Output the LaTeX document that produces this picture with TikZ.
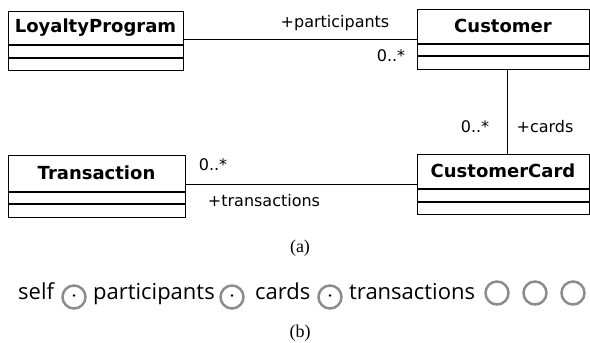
\documentclass[tikz,border=0pt]{standalone}
\usepackage{fontspec}
\usetikzlibrary{
  shapes,
  calc,
  positioning
}
\newfontfamily\umlfont{DejaVu Sans}
\newfontfamily\rowfont{Open Sans}
\newfontfamily\capfont{Liberation Serif}

\tikzset{
  classhead/.style = {draw, line width=1pt, rectangle, inner sep=0pt,
    font=\umlfont\bfseries\fontsize{18}{20}\selectfont},
  classpart/.style = {draw, line width=1pt, rectangle, inner sep=0pt},
  assoc/.style = {draw, line width=1pt},
  role/.style = {font=\umlfont\fontsize{16}{18}\selectfont, inner sep=0pt},
  word/.style = {font=\rowfont\fontsize{22}{24}\selectfont, inner sep=0pt, anchor=base west},
  ring/.style = {circle, draw=black!45, line width=2.5pt, minimum size=23pt, inner sep=0pt},
  capnode/.style = {font=\capfont\fontsize{18}{20}\selectfont, inner sep=0pt}
}

\begin{document}
\begin{tikzpicture}[x=1pt, y=-1pt, node distance = 0pt]
    \useasboundingbox (0,0) rectangle (590,343);

    % (a) class diagram
    \node[classhead, minimum width=175pt, minimum height=33pt] (lp) at (95.5,27.5) {LoyaltyProgram};
    \node[classpart, minimum width=175pt, minimum height=12pt, below = of lp] (lp1) {};
    \node[classpart, minimum width=175pt, minimum height=12pt, below = of lp1] (lp2) {};

    \node[classhead, minimum width=172pt, minimum height=34pt] (cust) at (503,26) {Customer};
    \node[classpart, minimum width=172pt, minimum height=11pt, below = of cust] (cust1) {};
    \node[classpart, minimum width=172pt, minimum height=13pt, below = of cust1] (cust2) {};

    \node[classhead, minimum width=177pt, minimum height=36pt] (trans) at (96.5,173) {Transaction};
    \node[classpart, minimum width=177pt, minimum height=11pt, below = of trans] (trans1) {};
    \node[classpart, minimum width=177pt, minimum height=13pt, below = of trans1] (trans2) {};

    \node[classhead, minimum width=172pt, minimum height=34pt] (card) at (503,171) {CustomerCard};
    \node[classpart, minimum width=172pt, minimum height=12pt, below = of card] (card1) {};
    \node[classpart, minimum width=172pt, minimum height=12pt, below = of card1] (card2) {};

    \draw[assoc] ([yshift=-11.5pt]lp.east) -- ([yshift=-11.5pt]lp.east -| cust.west);
    \draw[assoc] ([xshift=4pt]cust2.south) -- ([xshift=4pt]cust2.south |- card.north);
    \draw[assoc] ([yshift=-11pt]trans.east) -- ([yshift=-11pt]trans.east -| card.west);

    \node[role] at (335,23) {+participants};
    \node[role] at (391,56) {0..*};
    \node[role] at (475,127) {0..*};
    \node[role] at (545,127) {+cards};
    \node[role] at (213,165) {0..*};
    \node[role] at (264,201) {+transactions};

    \node[capnode] (capa) at (300,248) {(a)};

    % (b) navigation row
    \node[word] (self) at (18,299) {self};
    \node[ring] (r1) at (74,297) {};
    \node[word] (parts) at (93,299) {participants};
    \node[ring] (r2) at (232,297) {};
    \node[word] (cards) at (255,299) {cards};
    \node[ring] (r3) at (330,297) {};
    \node[word] (trs) at (349,299) {transactions};
    \foreach \x/\n in {497/r4, 535/r5, 573/r6}
      \node[ring] (\n) at (\x,293) {};
    \foreach \n in {r1, r2, r3}
      \fill ([yshift=1.5pt]\n.center) circle (1.3pt);

    \node[capnode] (capb) at (300,333) {(b)};
  \end{tikzpicture}
\end{document}
